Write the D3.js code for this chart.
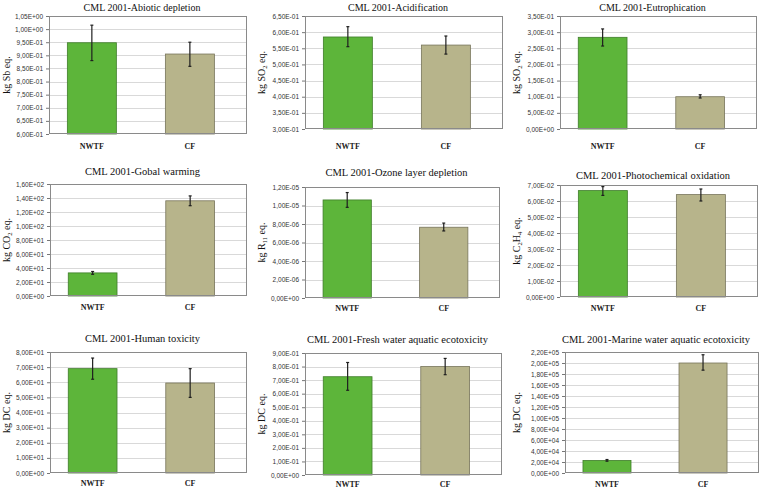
<!DOCTYPE html>
<html>
<head>
<meta charset="utf-8">
<script src="https://cdn.jsdelivr.net/npm/d3@7"></script>
<style>
  body { margin: 0; background: #fff; }
  svg { display: block; }
</style>
</head>
<body>
<div id="viz"></div>
<script>
// chart values
const categories = ["NWTF", "CF"];
const titles = [
  "CML 2001-Abiotic depletion",
  "CML 2001-Acidification",
  "CML 2001-Eutrophication",
  "CML 2001-Gobal warming",
  "CML 2001-Ozone layer depletion",
  "CML 2001-Photochemical oxidation",
  "CML 2001-Human toxicity",
  "CML 2001-Fresh water aquatic ecotoxicity",
  "CML 2001-Marine water aquatic ecotoxicity"
];
// unit labels, [text, isSubscript]
const units = [
  [["kg Sb eq.", 0]],
  [["kg SO", 0], ["2", 1], [" eq.", 0]],
  [["kg SO", 0], ["2", 1], [" eq.", 0]],
  [["kg CO", 0], ["2", 1], [" eq.", 0]],
  [["kg R", 0], ["11", 1], [" eq.", 0]],
  [["kg C", 0], ["2", 1], ["H", 0], ["4", 1], [" eq.", 0]],
  [["kg DC eq.", 0]],
  [["kg DC eq.", 0]],
  [["kg DC eq.", 0]]
];
const yMins = [0.60, 0.30, 0, 0, 0, 0, 0, 0, 0];
const yMaxs = [1.05, 0.65, 0.35, 160, 1.2e-5, 0.07, 80, 0.9, 220000];
const ySteps = [0.05, 0.05, 0.05, 20, 2e-6, 0.01, 10, 0.1, 20000];

const nwtfValues = [0.948, 0.585, 0.284, 33, 1.06e-5, 0.0665, 69, 0.725, 22800];
const nwtfLow    = [0.880, 0.555, 0.257, 31, 0.98e-5, 0.0635, 62, 0.625, 21500];
const nwtfHigh   = [1.015, 0.617, 0.310, 35, 1.14e-5, 0.0690, 76, 0.830, 24500];
const cfValues   = [0.905, 0.560, 0.100, 136, 7.65e-6, 0.0640, 59.5, 0.800, 200000];
const cfLow      = [0.858, 0.532, 0.096, 129, 7.25e-6, 0.0600, 50, 0.740, 187000];
const cfHigh     = [0.950, 0.588, 0.106, 143, 8.10e-6, 0.0675, 69, 0.860, 215000];

// layout: plot rectangles [x0, y0, x1, y1], title baseline, x-label baseline
const plots = [
  [49, 16, 247, 134], [305, 16, 503, 129], [560, 16, 757, 129],
  [50, 184, 247, 296], [305, 187, 500, 298], [560, 185, 758, 297],
  [50, 352, 247, 473], [305, 353, 502, 475], [565, 352, 759, 473]
];
const titleY = [11, 11, 11, 175, 176, 179, 342, 343, 343];
const labelY = [149, 149, 149, 310, 311, 311, 486, 487, 487];
const panelLeft = [0, 255, 510, 0, 255, 510, 0, 255, 510];

const colors = { NWTF: "#5db53a", CF: "#b7b48b" };
const strokes = { NWTF: "#3f7d2a", CF: "#77745a" };

function sci(v) {
  const parts = v.toExponential(2).split("e");
  const e = +parts[1];
  return parts[0].replace(".", ",") + "E" + (e < 0 ? "-" : "+") + String(Math.abs(e)).padStart(2, "0");
}

const width = 765, height = 490;
const svg = d3.select("#viz").append("svg")
  .attr("width", width)
  .attr("height", height);

titles.forEach((title, i) => {
  const [x0, y0, x1, y1] = plots[i];
  const g = svg.append("g");

  const x = d3.scaleBand()
    .domain(categories)
    .range([x0, x1])
    .paddingInner(0.5)
    .paddingOuter(0.26)
    .align(0.36);

  const y = d3.scaleLinear()
    .domain([yMins[i], yMaxs[i]])
    .range([y1, y0]);

  const nTicks = Math.round((yMaxs[i] - yMins[i]) / ySteps[i]);
  const ticks = d3.range(nTicks + 1).map(k => yMins[i] + k * ySteps[i]);

  // plot background and grid
  g.append("rect")
    .attr("x", x0).attr("y", y0)
    .attr("width", x1 - x0).attr("height", y1 - y0)
    .attr("fill", "#fff");

  g.selectAll(".grid")
    .data(ticks.slice(1, -1))
    .enter()
    .append("line")
    .attr("x1", x0).attr("x2", x1)
    .attr("y1", d => Math.round(y(d)) + 0.5)
    .attr("y2", d => Math.round(y(d)) + 0.5)
    .attr("stroke", "#d9d9d9")
    .attr("stroke-width", 1);

  // y axis
  const axis = g.append("g")
    .attr("transform", `translate(${x0},0)`)
    .call(d3.axisLeft(y).tickValues(ticks).tickFormat(sci).tickSize(3).tickPadding(3));
  axis.select(".domain").remove();
  axis.selectAll(".tick line").attr("stroke", "#777");
  axis.selectAll(".tick text")
    .attr("font-family", "Liberation Sans, Arial, sans-serif")
    .attr("font-size", 6.5)
    .attr("fill", "#333");

  // bars
  const rows = categories.map((c, k) => ({
    cat: c,
    value: k === 0 ? nwtfValues[i] : cfValues[i],
    low: k === 0 ? nwtfLow[i] : cfLow[i],
    high: k === 0 ? nwtfHigh[i] : cfHigh[i]
  }));

  g.selectAll(".bar")
    .data(rows)
    .enter()
    .append("rect")
    .attr("x", d => x(d.cat))
    .attr("y", d => y(d.value))
    .attr("width", x.bandwidth())
    .attr("height", d => y(yMins[i]) - y(d.value))
    .attr("fill", d => colors[d.cat])
    .attr("stroke", d => strokes[d.cat])
    .attr("stroke-width", 0.8);

  // error bars
  const eb = g.selectAll(".err")
    .data(rows)
    .enter()
    .append("g")
    .attr("stroke", "#1f1f1f")
    .attr("stroke-width", 1.2);
  eb.append("line")
    .attr("x1", d => x(d.cat) + x.bandwidth() / 2)
    .attr("x2", d => x(d.cat) + x.bandwidth() / 2)
    .attr("y1", d => y(d.low))
    .attr("y2", d => y(d.high));
  ["low", "high"].forEach(key => {
    eb.append("line")
      .attr("x1", d => x(d.cat) + x.bandwidth() / 2 - 1.5)
      .attr("x2", d => x(d.cat) + x.bandwidth() / 2 + 1.5)
      .attr("y1", d => y(d[key]))
      .attr("y2", d => y(d[key]));
  });

  // plot frame
  g.append("rect")
    .attr("x", x0 + 0.5).attr("y", y0 + 0.5)
    .attr("width", x1 - x0 - 1).attr("height", y1 - y0 - 1)
    .attr("fill", "none")
    .attr("stroke", "#8a8a8a")
    .attr("stroke-width", 1);

  // category labels
  g.selectAll(".cat")
    .data(categories)
    .enter()
    .append("text")
    .attr("x", d => x(d) + x.bandwidth() / 2)
    .attr("y", labelY[i])
    .attr("text-anchor", "middle")
    .attr("font-family", "Liberation Serif, Times New Roman, serif")
    .attr("font-weight", "bold")
    .attr("font-size", 8)
    .attr("fill", "#222")
    .text(d => d);

  // title
  g.append("text")
    .attr("x", (x0 + x1) / 2 - 6)
    .attr("y", titleY[i])
    .attr("text-anchor", "middle")
    .attr("font-family", "Liberation Serif, Times New Roman, serif")
    .attr("font-size", i < 3 ? 10 : 10.5)
    .attr("fill", "#111")
    .text(title);

  // unit label
  const ul = g.append("text")
    .attr("transform", `translate(${panelLeft[i] + 10},${(y0 + y1) / 2}) rotate(-90)`)
    .attr("text-anchor", "middle")
    .attr("font-family", "Liberation Serif, Times New Roman, serif")
    .attr("font-size", 10)
    .attr("fill", "#111");
  units[i].forEach(([t, sub]) => {
    ul.append("tspan")
      .attr("font-size", sub ? 6.5 : 10)
      .attr("baseline-shift", sub ? "-25%" : null)
      .text(t);
  });
});
</script>
</body>
</html>
